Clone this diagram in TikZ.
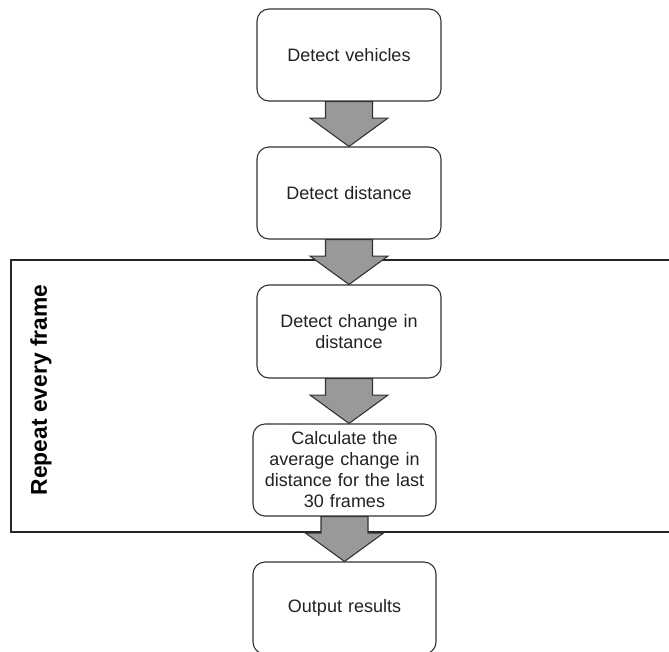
\documentclass[tikz,border=0pt]{standalone}
\usepackage{fontspec}
\setmainfont{Liberation Sans}
\usetikzlibrary{calc}
\definecolor{txtgray}{HTML}{222222}
\definecolor{linegray}{HTML}{333333}
\definecolor{arrowfill}{HTML}{999999}
\tikzset{
  stepbox/.style={draw=linegray, line width=1.1pt, rounded corners=12pt, fill=white,
    minimum width=184pt, minimum height=92pt, align=center, text width=170pt,
    font=\fontsize{18}{21}\selectfont, text=txtgray, inner sep=0pt},
  blockarr/.style={draw=linegray, line width=1.1pt, fill=arrowfill, line join=miter},
  framebox/.style={draw=black!85, line width=1.1pt}
}
% block arrow from the bottom of one step to the top of the next
\newcommand\blockarrow[2]{%
  \draw[blockarr] let \p1=(#1.south), \p2=(#2.north) in
    (\x1-23.5pt,\y1) -- (\x1-23.5pt,\y1-16.5pt) -- (\x1-39pt,\y1-16.5pt) --
    (\x1,\y2) -- (\x1+39pt,\y1-16.5pt) -- (\x1+23.5pt,\y1-16.5pt) --
    (\x1+23.5pt,\y1) -- cycle;}
\begin{document}
\begin{tikzpicture}[x=1pt,y=-1pt]
  \useasboundingbox (0,0) rectangle (669,651);
  \clip (0,0) rectangle (669,651);
  \fill[white] (0,0) rectangle (669,651);

  % loop region
  \draw[framebox] (700,260) -- (11,260) -- (11,532) -- (700,532);
  \node[rotate=90, font=\bfseries\fontsize{22.8}{25}\selectfont, text=black] (rep) at (41,390) {Repeat every frame};

  % steps
  \node[stepbox] (s1) at (349,55) {Detect vehicles};
  \node[stepbox] (s2) at (349,193) {Detect distance};
  \node[stepbox, minimum height=93pt] (s3) at (349,331.5) {Detect change in\\distance};
  \node[stepbox, minimum width=183pt] (s4) at (344.5,470) {Calculate the\\average change in\\distance for the last\\30 frames};
  \node[stepbox, minimum width=183pt] (s5) at (344.5,608) {Output results};

  % flow arrows
  \blockarrow{s1}{s2}
  \blockarrow{s2}{s3}
  \blockarrow{s3}{s4}
  \blockarrow{s4}{s5}
\end{tikzpicture}
\end{document}
